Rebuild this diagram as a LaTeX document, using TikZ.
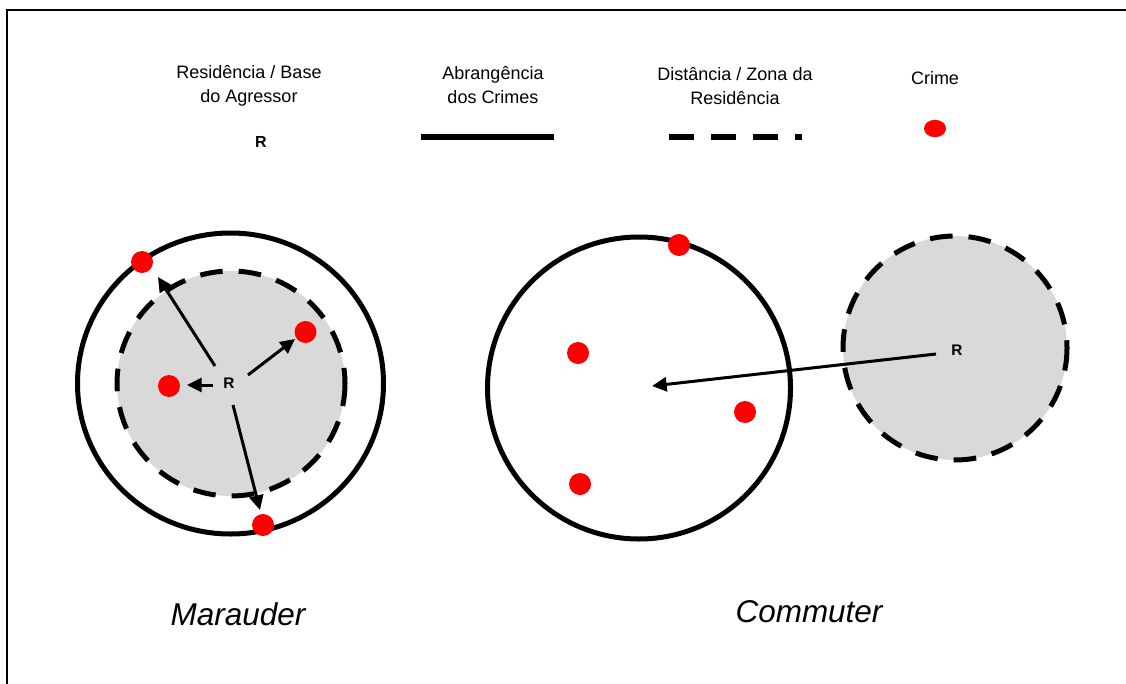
\documentclass[tikz,border=0pt]{standalone}
\usepackage{fontspec}
\setmainfont{Liberation Sans}
\usetikzlibrary{arrows.meta,shapes.geometric}
\definecolor{zonegray}{HTML}{D9D9D9}
\definecolor{crimered}{HTML}{FF0000}
\tikzset{
  legendtext/.style={font=\fontsize{13.5}{18}\selectfont, align=center, inner sep=0pt, anchor=base},
  titletext/.style={font=\fontsize{23.6}{28}\selectfont\itshape, inner sep=0pt, anchor=base},
  rlabel/.style={font=\fontsize{11.5}{13}\selectfont\bfseries, inner sep=0pt},
  crimedot/.style={circle, fill=crimered, draw=none, minimum size=16.5pt, inner sep=0pt},
  rangeline/.style={line width=3.75pt},
  zoneline/.style={line width=3.75pt, dash pattern=on 17pt off 12pt},
  radarrow/.style={line width=2.25pt, -{Triangle[length=11pt,width=10.5pt]}},
}
\begin{document}
\begin{tikzpicture}[x=0.75pt,y=-0.75pt]
\useasboundingbox (0,0) rectangle (1126,684);
\begin{scope}
\clip (0,0) rectangle (1126,684);
\draw[line width=1.5pt] (7,10) rectangle (1150,710);
\end{scope}

% legend
\node[legendtext] (lg1) at (249,103) {Residência / Base\\do Agressor};
\node[legendtext] (lg2) at (493,104) {Abrangência\\dos Crimes};
\node[legendtext] (lg3) at (735,105) {Distância / Zona da\\Residência};
\node[legendtext] (lg4) at (935,85) {Crime};
\node[font=\fontsize{12}{14}\selectfont\bfseries, inner sep=0pt] (lgR) at (261,142) {R};
\coordinate (s1) at (421,137);
\coordinate (s2) at (554,137);
\draw[line width=4.5pt] (s1) -- (s2);
\coordinate (d1) at (669,137.5);
\coordinate (d2) at (802,137.5);
\draw[line width=4.5pt, dash pattern=on 18.75pt off 12.75pt] (d1) -- (d2);
\node[ellipse, fill=crimered, minimum width=16.5pt, minimum height=13pt, inner sep=0pt] (lgdot) at (935,128.5) {};

% Marauder
\fill[zonegray] (231,383.5) ellipse [x radius=114, y radius=112.5];
\draw[zoneline] (231,383.5) ellipse [x radius=114, y radius=112.5];
\draw[rangeline] (230.5,383.5) ellipse [x radius=153, y radius=150.5];
\node[rlabel] (mR) at (229,383) {R};
\node[crimedot] (m1) at (142,262) {};
\node[crimedot] (m2) at (305.5,332) {};
\node[crimedot] (m3) at (169,386) {};
\node[crimedot] (m4) at (263,525) {};
\coordinate (ma1) at (215,366);
\coordinate (mb1) at (158,277);
\coordinate (ma2) at (248,375);
\coordinate (mb2) at (295,339);
\coordinate (ma3) at (213,385);
\coordinate (mb3) at (187,385);
\coordinate (ma4) at (233,405);
\coordinate (mb4) at (260,510);
\draw[radarrow] (ma1) -- (mb1);
\draw[radarrow] (ma2) -- (mb2);
\draw[radarrow] (ma3) -- (mb3);
\draw[radarrow] (ma4) -- (mb4);

% Commuter
\fill[zonegray] (955,348) ellipse [x radius=112, y radius=112];
\draw[zoneline] (955,348) ellipse [x radius=112, y radius=112];
\draw[rangeline] (639,388) ellipse [x radius=151.5, y radius=151];
\node[rlabel] (cR) at (957,350) {R};
\node[crimedot] (c1) at (679,245) {};
\node[crimedot] (c2) at (578,353) {};
\node[crimedot] (c3) at (745,412) {};
\node[crimedot] (c4) at (580,484) {};
\coordinate (ca) at (936,354);
\coordinate (cb) at (652,386);
\draw[radarrow] (ca) -- (cb);

% titles
\node[titletext] (tm) at (238,625) {Marauder};
\node[titletext] (tc) at (809,622) {Commuter};
\end{tikzpicture}
\end{document}
